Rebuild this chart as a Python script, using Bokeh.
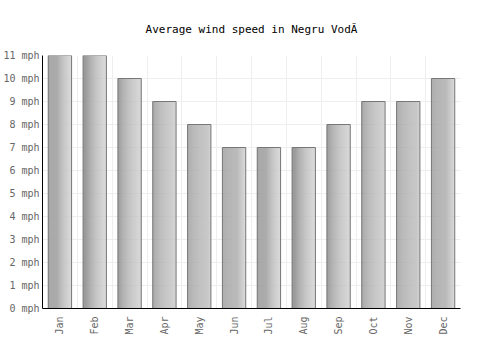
import numpy as np
from bokeh.plotting import figure
from bokeh.models import FixedTicker, Range1d
from bokeh.embed import file_html
from bokeh.resources import INLINE

months = ["Jan", "Feb", "Mar", "Apr", "May", "Jun", "Jul", "Aug", "Sep", "Oct", "Nov", "Dec"]
wind_mph = [11, 11, 10, 9, 8, 7, 7, 7, 8, 9, 9, 10]
y_ticks = list(range(0, 12))
y_labels = [f"{v} mph" for v in y_ticks]

FONT = "DejaVu Sans Mono"

p = figure(width=500, height=350, output_backend="svg", toolbar_location=None,
           x_range=Range1d(-0.5, 11.5), y_range=Range1d(0, 11),
           title="Average wind speed in Negru VodĂ")
p.min_border_left = 41
p.min_border_right = 40
p.min_border_bottom = 42
p.min_border_top = 55
p.outline_line_color = None
p.background_fill_color = "white"
p.border_fill_color = "white"

p.title.align = "center"
p.title.text_font = FONT
p.title.text_font_size = "11px"
p.title.text_font_style = "normal"
p.title.text_color = "#000000"
p.title.offset = 0
p.title.standoff = 39

# gradient bars built from strips
n_strips = 24
bar_w = 0.67
strip_w = bar_w / n_strips
c0 = np.array([0x98, 0x98, 0x98])
c1 = np.array([0xd0, 0xd0, 0xd0])
xs, tops, cols = [], [], []
idx = np.arange(len(months))
for k in range(n_strips):
    t = k / (n_strips - 1)
    c = (c0 + (c1 - c0) * t).astype(int)
    col = "#%02x%02x%02x" % tuple(c)
    off = -bar_w / 2 + strip_w * (k + 0.5)
    for i, v in zip(idx, wind_mph):
        xs.append(i + off)
        tops.append(v)
        cols.append(col)
p.vbar(x=xs, top=tops, width=strip_w * 1.05, bottom=0, fill_color=cols, line_color=None)
p.vbar(x=idx, top=wind_mph, width=bar_w, bottom=0, fill_color=None,
       line_color="#777777", line_width=1)

# axes
p.xaxis.ticker = FixedTicker(ticks=list(idx))
p.xaxis.major_label_overrides = {int(i): m for i, m in zip(idx, months)}
p.xaxis.major_label_orientation = np.pi / 2
p.yaxis.ticker = FixedTicker(ticks=y_ticks)
p.yaxis.major_label_overrides = {v: l for v, l in zip(y_ticks, y_labels)}
for ax in (p.xaxis, p.yaxis):
    ax.major_tick_line_color = None
    ax.minor_tick_line_color = None
    ax.major_tick_in = 0
    ax.major_tick_out = 0
    ax.axis_line_color = "#000000"
    ax.axis_line_width = 1
    ax.major_label_text_font = FONT
    ax.major_label_text_color = "#666666"
    ax.major_label_text_font_size = "10px"
p.yaxis.major_label_standoff = 3
p.xaxis.major_label_standoff = 8

p.xgrid.ticker = FixedTicker(ticks=[i + 0.5 for i in range(len(months))])
p.xgrid.grid_line_color = "#eeeeee"
p.ygrid.grid_line_color = "#eeeeee"

open("out.html", "w").write(file_html(p, INLINE))
